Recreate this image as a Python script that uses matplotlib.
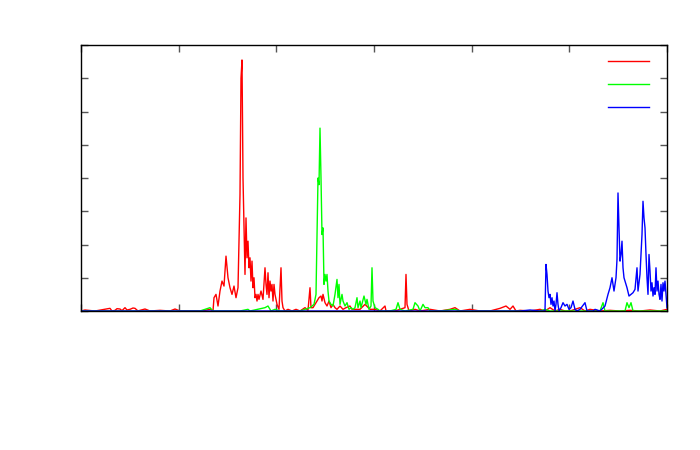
import matplotlib
matplotlib.use('Agg')
import matplotlib.pyplot as plt
from matplotlib.lines import Line2D

# x in day index (0..586), y in plot units (0..8)
red_x = [0, 4, 14, 29, 31, 34, 36, 39, 41, 44, 46, 49, 52, 54, 57, 59, 64, 69, 79, 89, 94, 99,
         109, 119, 124, 129,
         132, 133, 135, 137, 139, 141, 143, 145, 147, 149, 151, 153, 155, 157, 159, 160, 161,
         162, 163, 164, 165, 166, 167, 168, 169, 170, 171, 172, 173, 174, 175, 176, 177, 178,
         180, 182, 184, 185, 186, 187, 188, 189, 190, 191, 192, 193, 194, 196, 198, 200, 201,
         202, 204, 207, 211, 215, 219, 224, 227, 229, 230, 232, 234, 236, 238, 240, 241, 242,
         244, 246, 248, 250, 252, 254, 256, 259, 262, 265, 269, 271, 274, 279, 284, 289, 294,
         299, 304, 305, 314, 319, 324, 325, 326, 328, 334, 339, 349, 359, 369, 374, 379, 389,
         399, 409, 419, 425, 429, 432, 435, 439, 449, 459, 464, 469, 474, 479, 484, 489, 499,
         504, 509, 519, 529, 539, 549, 559, 569, 579, 586]
red_y = [0, 0.03, 0, 0.08, 0, 0.02, 0.07, 0.06, 0.01, 0.1, 0.03, 0.05, 0.09, 0.08, 0, 0.02,
         0.06, 0, 0.02, 0, 0.06, 0, 0,
         0, 0.02, 0.05, 0, 0.4, 0.5, 0.15, 0.6, 0.9, 0.75, 1.65, 1.0, 0.7, 0.5, 0.75, 0.4, 0.7,
         3.5, 7.0, 7.55, 4.0, 2.5, 1.1, 2.8, 1.6, 2.1, 1.3, 1.6, 0.9, 1.5, 0.7, 1.0, 0.4, 0.5,
         0.3, 0.5, 0.35, 0.6, 0.35, 1.3, 0.8, 0.5, 1.15, 0.4, 0.9, 0.6, 0.8, 0.3, 0.8, 0.5, 0.2,
         0.05, 1.3, 0.3, 0.1, 0, 0.05, 0, 0.05, 0, 0.1, 0.02, 0.7, 0.1, 0.1, 0.2, 0.3, 0.4, 0.45,
         0.3, 0.5, 0.25, 0.15, 0.3, 0.1, 0.2, 0.1, 0.05, 0.15, 0.05, 0.1, 0.15, 0.05, 0.05, 0.05,
         0.2, 0.05, 0.05, 0, 0.15, 0, 0, 0.05, 0.1, 1.1, 0.2, 0, 0.05, 0, 0.05, 0, 0.05, 0.1, 0,
         0.05, 0, 0, 0.08, 0.15, 0.05, 0.15, 0, 0.02, 0, 0.05, 0, 0.1, 0, 0.05, 0, 0, 0.1, 0,
         0.05, 0, 0.02, 0, 0.02, 0, 0.03, 0, 0.05]

green_x = [0, 119, 124, 129, 132, 159, 167, 169, 184, 187, 190, 194, 199, 219, 229, 233, 235,
           237, 238, 239, 240, 241, 242, 243, 244, 245, 246, 247, 248, 250, 252, 254, 256, 257,
           258, 259, 261, 262, 264, 266, 268, 270, 272, 274, 276, 277, 279, 280, 283, 285, 286,
           288, 290, 291, 292, 294, 297, 299, 309, 315, 317, 319, 324, 332, 334, 337, 339, 342,
           344, 347, 349, 359, 374, 379, 389, 459, 464, 469, 519, 522, 524, 534, 544, 546, 548,
           550, 552, 559, 586]
green_y = [0, 0, 0.05, 0.1, 0, 0, 0.05, 0, 0.1, 0.15, 0, 0.05, 0, 0, 0.1, 0.2, 0.5, 4.0, 3.8,
           5.5, 4.0, 2.3, 2.5, 0.8, 1.1, 0.9, 1.1, 0.6, 0.3, 0.2, 0.15, 0.5, 0.95, 0.4, 0.8, 0.2,
           0.5, 0.3, 0.15, 0.25, 0.05, 0.1, 0.05, 0.1, 0.4, 0.1, 0.3, 0.1, 0.45, 0.2, 0.35, 0.05,
           0.15, 1.3, 0.3, 0.1, 0.05, 0, 0, 0.05, 0.25, 0.05, 0, 0.05, 0.25, 0.15, 0, 0.2, 0.1,
           0.1, 0, 0, 0.05, 0, 0, 0, 0.05, 0, 0, 0.25, 0, 0, 0, 0.25, 0.1, 0.25, 0, 0, 0]

blue_x = [0, 439, 449, 459, 464, 465, 466, 467, 468, 469, 470, 471, 472, 473, 474, 475, 476,
          477, 478, 480, 482, 484, 486, 488, 490, 492, 494, 496, 499, 504, 506, 512, 514, 519,
          524, 527, 529, 531, 533, 535, 536, 537, 538, 539, 540, 541, 542, 543, 544, 546, 548,
          550, 552, 554, 556, 557, 559, 561, 562, 563, 564, 565, 566, 567, 568, 569, 570, 571,
          572, 573, 574, 575, 576, 577, 578, 579, 580, 581, 582, 583, 584, 585, 586]
blue_y = [0, 0, 0.03, 0, 0, 1.4, 1.1, 0.6, 0.4, 0.5, 0.2, 0.4, 0.15, 0.3, 0, 0.2, 0.55, 0.2,
          0, 0.1, 0.25, 0.15, 0.2, 0.05, 0.1, 0.3, 0.05, 0, 0.05, 0.25, 0, 0, 0.05, 0, 0.15,
          0.5, 0.7, 1.0, 0.6, 1.0, 1.55, 3.55, 2.5, 1.5, 1.7, 2.1, 1.3, 1.0, 0.9, 0.7, 0.45,
          0.5, 0.55, 0.65, 1.3, 0.6, 1.1, 2.3, 3.3, 2.8, 2.5, 1.7, 1.0, 0.5, 1.7, 1.2, 0.6, 0.85,
          0.45, 0.7, 0.5, 1.3, 0.6, 0.9, 0.5, 0.35, 0.8, 0.3, 0.85, 0.6, 0.9, 0.5, 0.1]

fig = plt.figure(figsize=(7, 4.5), dpi=100)
ax = fig.add_axes([81 / 700, 139 / 450, 586 / 700, 266 / 450])

ax.plot(red_x, red_y, color='#ff0000', lw=1.0)
ax.plot(green_x, green_y, color='#00ff00', lw=1.0)
ax.plot(blue_x, blue_y, color='#0000ff', lw=1.0)

ax.set_xlim(0, 586)
ax.set_ylim(0, 8)
ax.set_xticks([586 * i / 6 for i in range(7)])
ax.set_yticks(range(9))
ax.set_xticklabels([])
ax.set_yticklabels([])
ax.tick_params(direction='in', length=5, width=1, color='#555555',
               top=True, right=True)
for s in ax.spines.values():
    s.set_linewidth(1.0)
    s.set_color('black')

handles = [Line2D([], [], color=c, lw=1.0) for c in ['#ff0000', '#00ff00', '#0000ff']]
ax.legend(handles, ['', '', ''], loc='upper right', bbox_to_anchor=(0.979, 0.984),
          frameon=False, handlelength=2.95, handletextpad=0, labelspacing=0.66,
          borderaxespad=0, fontsize=10)

fig.savefig('out.png', dpi=100)
